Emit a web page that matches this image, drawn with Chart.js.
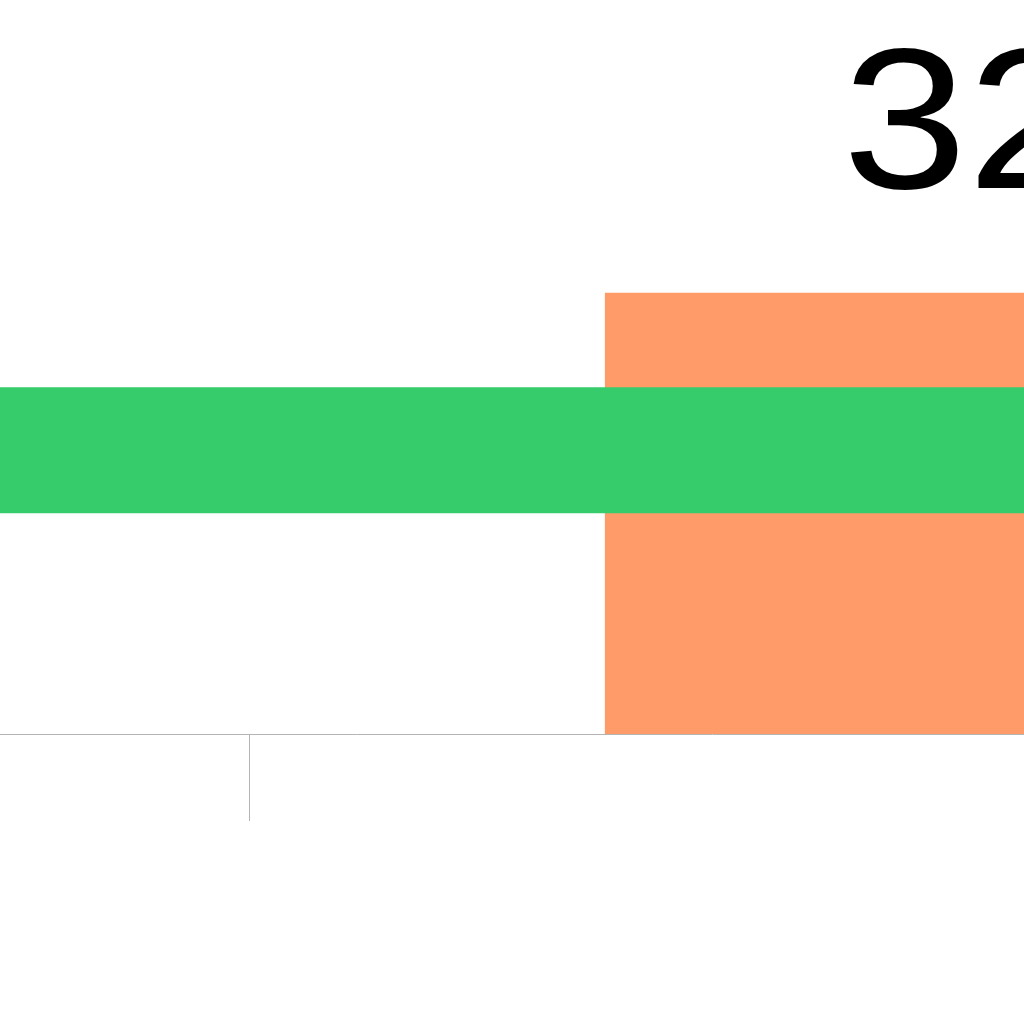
<!DOCTYPE html>
<html>
<head>
<meta charset="utf-8">
<title>Chart</title>
<script src="https://cdn.jsdelivr.net/npm/chart.js@4.4.1/dist/chart.umd.min.js"></script>
<style>
    html, body { margin: 0; padding: 0; background: #fff; overflow: hidden; }
    #wrap { position: absolute; left: 0; top: 0; }
</style>
</head>
<body>
<div id="wrap">
    <canvas id="bulletChart" width="1424" height="1024"></canvas>
</div>
<script>
// values
const barX = [2];
const barValues = [32];
const targetX = [-0.7, 3.3];
const targetValues = [20.6, 20.6];
const xTicks = [0];

// big value label above the bar
const valueLabel = {
    id: 'valueLabel',
    afterDatasetsDraw(chart) {
        const meta = chart.getDatasetMeta(1);
        const ctx = chart.ctx;
        meta.data.forEach((bar, i) => {
            ctx.save();
            ctx.fillStyle = '#000';
            ctx.font = '200px "Liberation Sans", Arial, sans-serif';
            ctx.textAlign = 'center';
            ctx.textBaseline = 'alphabetic';
            ctx.translate(bar.x + 6, bar.y - 105);
            ctx.scale(1.12, 1);
            ctx.fillText(String(barValues[i]), 0, 0);
            ctx.restore();
        });
    }
};

const ctx1 = document.getElementById('bulletChart').getContext('2d');

new Chart(ctx1, {
    type: 'bar',
    data: {
        datasets: [
            {
                type: 'line',
                label: 'Target',
                data: targetX.map((x, i) => ({ x: x, y: targetValues[i] })),
                borderColor: '#37cc6b',
                borderWidth: 126,
                borderCapStyle: 'butt',
                pointRadius: 0,
                fill: false,
                order: 0
            },
            {
                label: 'Value',
                data: barX.map((x, i) => ({ x: x, y: barValues[i] })),
                backgroundColor: '#ff9b69',
                borderWidth: 0,
                barThickness: 712,
                order: 1
            }
        ]
    },
    options: {
        responsive: false,
        animation: false,
        layout: { padding: { top: 45, bottom: 203, left: 0, right: 0 } },
        plugins: {
            legend: { display: false },
            tooltip: { enabled: false }
        },
        scales: {
            x: {
                type: 'linear',
                min: -0.7,
                max: 3.3,
                offset: false,
                afterBuildTicks: function (scale) {
                    scale.ticks = xTicks.map(v => ({ value: v }));
                },
                ticks: { display: false },
                grid: {
                    offset: false,
                    drawOnChartArea: false,
                    drawTicks: true,
                    tickLength: 87,
                    color: '#b4b4b4',
                    lineWidth: 1
                },
                border: { display: true, color: '#b4b4b4', width: 1 }
            },
            y: {
                display: false,
                min: 0,
                max: 50
            }
        }
    },
    plugins: [valueLabel]
});
</script>
</body>
</html>
